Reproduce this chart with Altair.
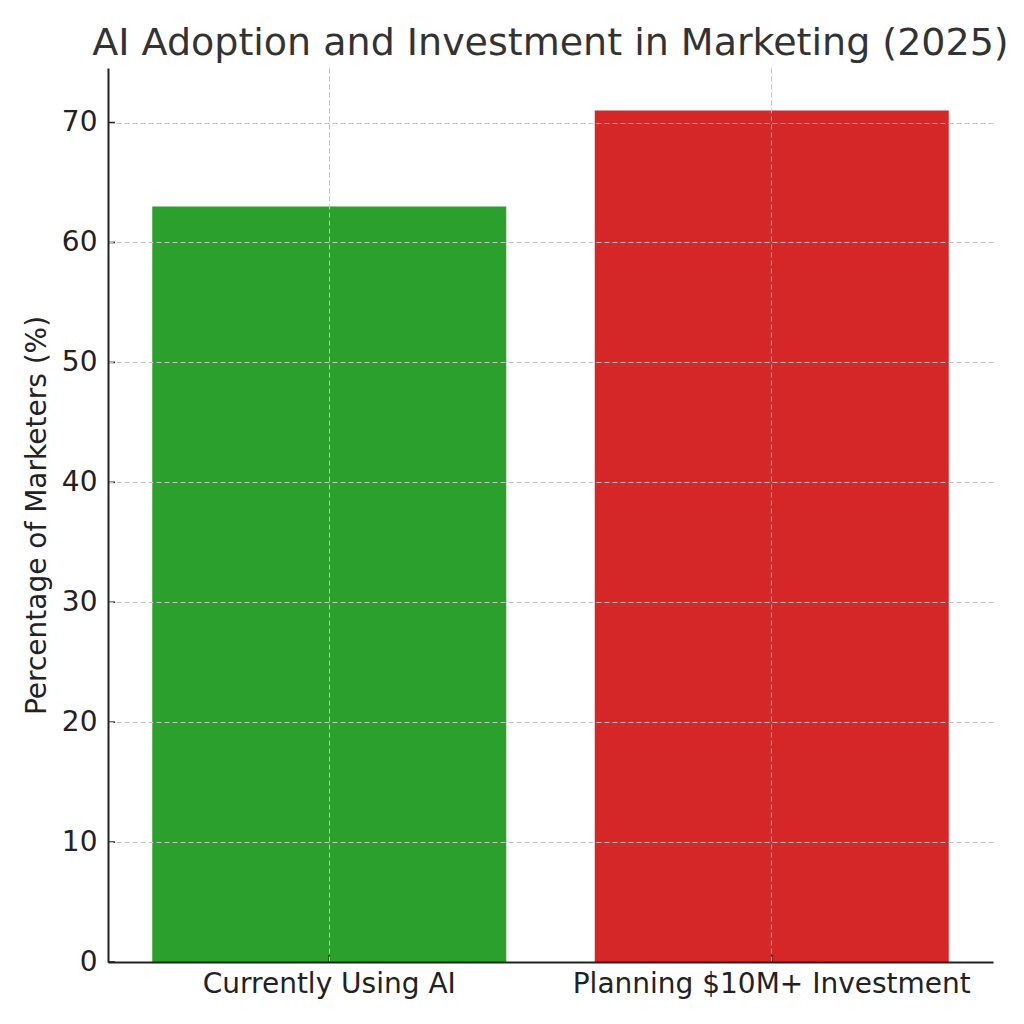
import altair as alt
import pandas as pd

categories = ["Currently Using AI", "Planning $10M+ Investment"]
percentages = [63, 71]
bar_colors = ["#2ca02c", "#d62728"]
y_ticks = [0, 10, 20, 30, 40, 50, 60, 70]

W, H = 885, 894
FONT = "DejaVu Sans"

df = pd.DataFrame({"category": categories, "pct": percentages})
ticks_df = pd.DataFrame({"v": y_ticks})

x_scale = alt.Scale(domain=categories, paddingInner=0, paddingOuter=0)
y_scale = alt.Scale(domain=[0, 74.55], nice=False, zero=True)

x_axis = alt.Axis(labelAngle=0, ticks=False, labelPadding=8, labelLimit=0,
                  grid=True, bandPosition=0.5, zindex=1)
y_axis = alt.Axis(values=y_ticks, ticks=False, labelPadding=11,
                  titlePadding=10, grid=True, zindex=1)
y_title = "Percentage of Marketers (%)"

bars = alt.Chart(df).mark_bar(width={"band": 0.8}).encode(
    x=alt.X("category:N", scale=x_scale, sort=categories, title=None, axis=x_axis),
    y=alt.Y("pct:Q", scale=y_scale, title=y_title, axis=y_axis),
    color=alt.Color("category:N", legend=None,
                    scale=alt.Scale(domain=categories, range=bar_colors)),
)

# inward tick marks, like matplotlib's direction='in'
y_tick_marks = alt.Chart(ticks_df).mark_rule(color="#222222", strokeWidth=1.6).encode(
    y=alt.Y("v:Q", scale=y_scale, title=y_title, axis=y_axis),
    x=alt.value(0),
    x2=alt.value(7),
)
x_tick_marks = alt.Chart(df).mark_rule(color="#222222", strokeWidth=1.6).encode(
    x=alt.X("category:N", scale=x_scale, sort=categories, title=None, axis=x_axis),
    y=alt.value(H),
    y2=alt.value(H - 7),
)

chart = alt.layer(bars, y_tick_marks, x_tick_marks).properties(
    width=W,
    height=H,
    autosize="none",
    padding={"left": 100, "top": 60, "right": 20, "bottom": 40},
    title=alt.Title(
        "AI Adoption and Investment in Marketing (2025)",
        font=FONT, fontSize=38, fontWeight="normal", color="#333333",
        anchor="middle", frame="group", offset=5,
    ),
).configure_view(
    stroke=None
).configure_axis(
    labelFont=FONT, labelFontSize=28, labelColor="#222222",
    titleFont=FONT, titleFontSize=28, titleFontWeight="normal", titleColor="#222222",
    domainColor="#222222", domainWidth=2,
    gridColor="#c4c4c4", gridDash=[5, 3], gridWidth=1,
)

chart.save("out.html", embed_options={"renderer": "svg", "actions": False})
